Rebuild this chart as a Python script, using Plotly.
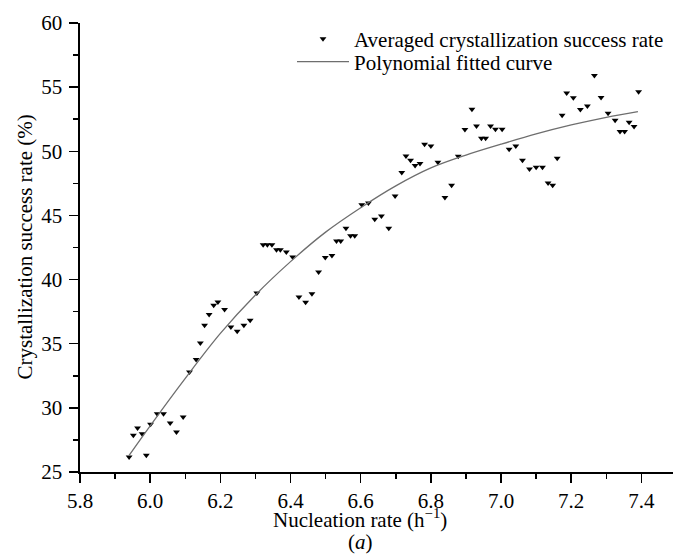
import plotly.graph_objects as go

# Averaged crystallization success rate (scatter)
nucleation_rate = [5.940, 5.952, 5.964, 5.977, 5.989, 6.001, 6.020, 6.038, 6.057, 6.075,
                   6.094, 6.112, 6.131, 6.143, 6.155, 6.168, 6.181, 6.193, 6.212, 6.230,
                   6.248, 6.267, 6.285, 6.304, 6.322, 6.334, 6.347, 6.360, 6.371, 6.388,
                   6.406, 6.424, 6.443, 6.461, 6.480, 6.499, 6.518, 6.531, 6.543, 6.558,
                   6.571, 6.583, 6.603, 6.622, 6.640, 6.659, 6.680, 6.698, 6.717, 6.729,
                   6.742, 6.755, 6.769, 6.782, 6.800, 6.820, 6.840, 6.859, 6.878, 6.897,
                   6.917, 6.930, 6.944, 6.956, 6.970, 6.984, 7.003, 7.023, 7.042, 7.061,
                   7.081, 7.100, 7.118, 7.134, 7.147, 7.160, 7.174, 7.187, 7.206, 7.226,
                   7.246, 7.266, 7.285, 7.305, 7.325, 7.339, 7.352, 7.365, 7.379, 7.392]
success_rate = [26.17, 27.86, 28.43, 27.99, 26.30, 28.72, 29.55, 29.55, 28.82, 28.12,
                29.29, 32.80, 33.76, 35.05, 36.43, 37.27, 37.99, 38.25, 37.66, 36.30,
                35.97, 36.43, 36.82, 38.95, 42.72, 42.72, 42.72, 42.33, 42.33, 42.15,
                41.76, 38.64, 38.23, 38.90, 40.59, 41.73, 41.87, 43.00, 43.00, 44.00,
                43.42, 43.42, 45.84, 45.97, 44.70, 44.95, 44.00, 46.51, 48.34, 49.63,
                49.30, 48.90, 49.04, 50.54, 50.41, 49.14, 46.39, 47.35, 49.61, 51.69,
                53.27, 51.97, 51.01, 51.01, 51.97, 51.71, 51.71, 50.15, 50.41, 49.30,
                48.62, 48.75, 48.75, 47.52, 47.35, 49.45, 52.80, 54.54, 54.18, 53.25,
                53.53, 55.90, 54.20, 52.96, 52.41, 51.55, 51.55, 52.26, 51.94, 54.65]

# Polynomial fitted curve
curve_x = [5.94, 6.0, 6.1, 6.2, 6.3, 6.4, 6.5, 6.6, 6.7, 6.8, 6.9, 7.0, 7.1, 7.2, 7.3, 7.39]
curve_y = [26.3, 28.6, 32.3, 35.8, 38.8, 41.4, 43.7, 45.6, 47.3, 48.7, 49.7, 50.55, 51.35, 52.05, 52.65, 53.1]

x_ticks = [5.8, 6.0, 6.2, 6.4, 6.6, 6.8, 7.0, 7.2, 7.4]
y_ticks = [25, 30, 35, 40, 45, 50, 55, 60]

FONT = "Liberation Serif, Times New Roman, serif"

fig = go.Figure()
fig.add_trace(go.Scatter(
    x=nucleation_rate, y=success_rate, mode="markers",
    name="Averaged crystallization success rate",
    marker=dict(symbol="triangle-down", size=6, color="black"),
    legend="legend",
))
fig.add_trace(go.Scatter(
    x=curve_x, y=curve_y, mode="lines", line_shape="spline",
    name="Polynomial fitted curve",
    line=dict(color="#6e6e6e", width=1.3),
    legend="legend2",
))

W, H = 673, 560
L, R, T, B = 80, 0, 23, 88
ph = H - T - B

def py(p):
    return (H - B - p) / ph

def px(p):
    return (p - L) / (W - L - R)

axis_common = dict(
    showline=True, linecolor="black", linewidth=1.6,
    ticks="outside", ticklen=9, tickwidth=1.5, tickcolor="black",
    showgrid=False, zeroline=False,
    tickfont=dict(family=FONT, size=21, color="black"),
)

fig.update_xaxes(
    range=[5.8, 7.49], tickvals=x_ticks, tickformat=".1f", ticklabelstandoff=0,
    minor=dict(dtick=0.1, tick0=5.8, ticks="outside", ticklen=5, tickwidth=1.5, tickcolor="black"),
    **axis_common,
)
fig.update_yaxes(
    range=[25, 60], tickvals=y_ticks, ticklabelstandoff=3,
    minor=dict(dtick=2.5, tick0=25, ticks="outside", ticklen=5, tickwidth=1.5, tickcolor="black"),
    **axis_common,
)

legend_common = dict(
    xanchor="left", yanchor="middle", bgcolor="rgba(0,0,0,0)",
    font=dict(family=FONT, size=21, color="black"), itemwidth=52,
)

fig.update_layout(
    width=W, height=H,
    margin=dict(l=L, r=R, t=T, b=B, autoexpand=False),
    paper_bgcolor="white", plot_bgcolor="white",
    showlegend=True,
    legend=dict(x=px(292), y=py(39), **legend_common),
    legend2=dict(x=px(292), y=py(62), **legend_common),
    annotations=[
        dict(text="Nucleation rate (h<sup>\u22121</sup>)", xref="paper", yref="paper",
             x=px(360), y=py(518), xanchor="center", yanchor="middle", showarrow=False,
             font=dict(family=FONT, size=21, color="black")),
        dict(text="(<i>a</i>)", xref="paper", yref="paper",
             x=px(360), y=py(542), xanchor="center", yanchor="middle", showarrow=False,
             font=dict(family=FONT, size=21, color="black")),
        dict(text="Crystallization success rate (%)", xref="paper", yref="paper",
             x=px(24), y=0.5, xanchor="center", yanchor="middle", showarrow=False,
             textangle=-90, font=dict(family=FONT, size=21, color="black")),
    ],
)

fig.write_html(
    "out.html",
    config={"displayModeBar": False, "staticPlot": True},
    post_script="document.body.style.margin='0px';document.body.style.overflow='hidden';",
)
